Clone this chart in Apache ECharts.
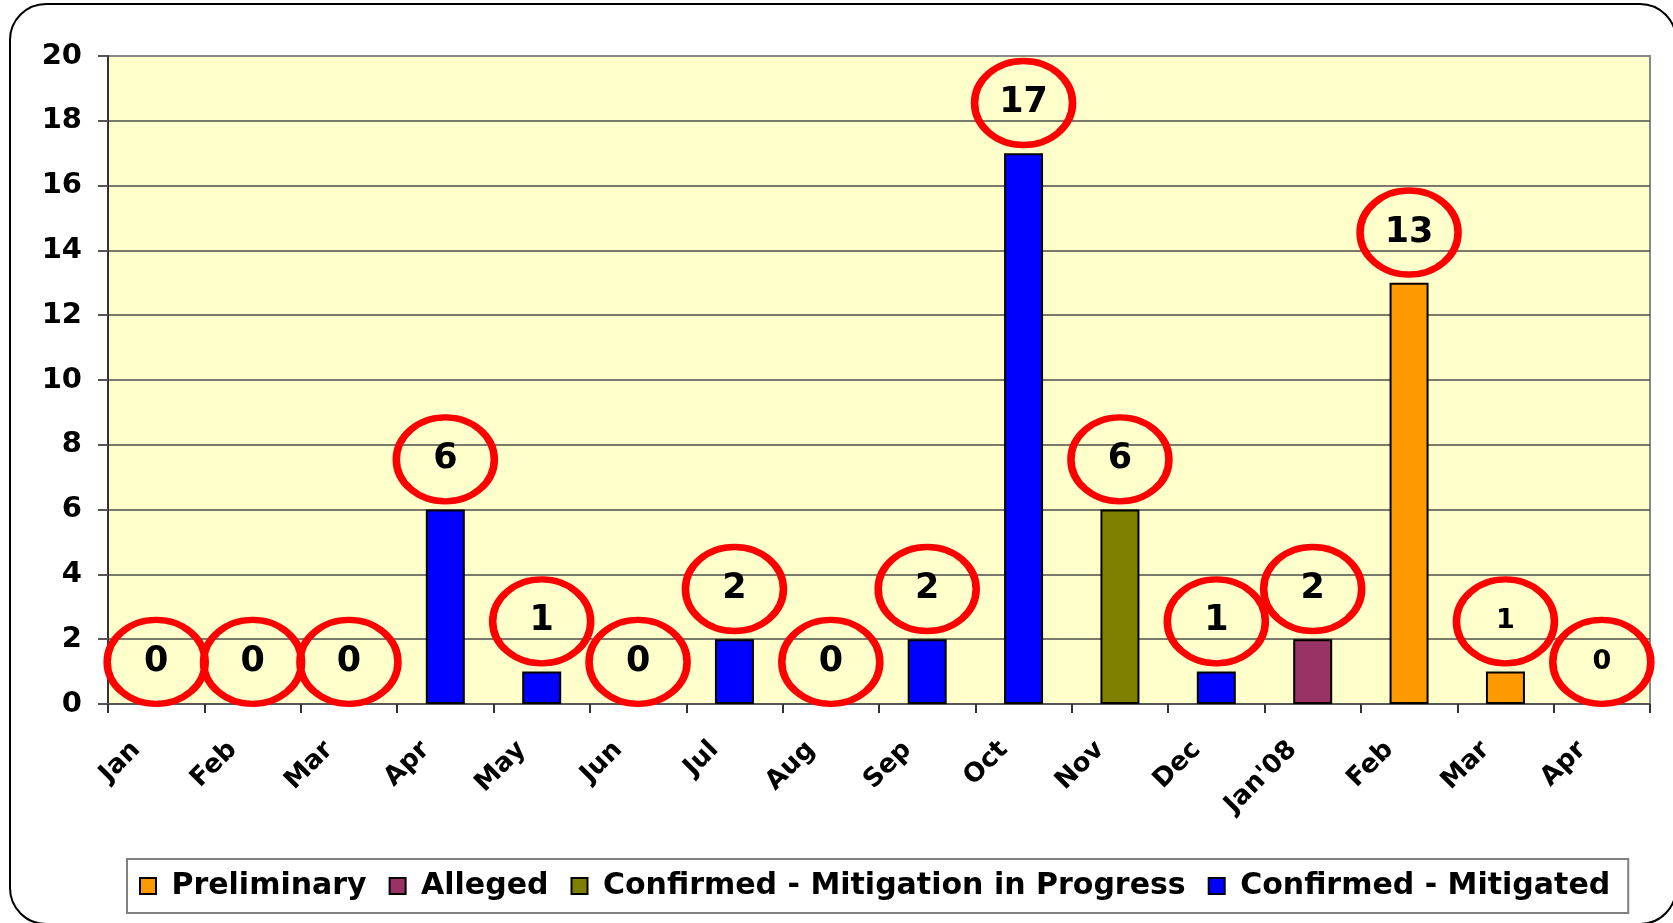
<!DOCTYPE html>
<html>
<head>
<meta charset="utf-8">
<title>Monthly status</title>
<script src="https://cdn.jsdelivr.net/npm/echarts@6/dist/echarts.min.js"></script>
<style>
html,body{margin:0;padding:0;background:#fff;}
#main{width:1673px;height:923px;}
</style>
</head>
<body>
<div id="main"></div>
<script>
// categories (x axis)
var months = ["Jan","Feb","Mar","Apr","May","Jun","Jul","Aug","Sep","Oct","Nov","Dec","Jan'08","Feb","Mar","Apr"];

// series values, one per month
var preliminary = [0,0,0,0,0,0,0,0,0,0,0,0,0,13,1,0];
var alleged     = [0,0,0,0,0,0,0,0,0,0,0,0,2,0,0,0];
var inProgress  = [0,0,0,0,0,0,0,0,0,0,6,0,0,0,0,0];
var mitigated   = [0,0,0,6,1,0,2,0,2,17,0,1,0,0,0,0];

var seriesNames = ["Preliminary","Alleged","Confirmed - Mitigation in Progress","Confirmed - Mitigated"];

// y axis ticks
var yMin = 0;
var yMax = 20;
var yStep = 2;

var fontName = "DejaVu Sans";

function sumMonths(){
    var t = [];
    for (var i = 0; i < months.length; i++) {
        t.push(preliminary[i] + alleged[i] + inProgress[i] + mitigated[i]);
    }
    return t;
}

function barData(arr){
    return arr.map(function(v){ return v === 0 ? '-' : v; });
}

// red rings with the monthly total, drawn a bit above each bar
function ringData(totals){
    var out = [];
    for (var i = 0; i < totals.length; i++) {
        var t = totals[i];
        var item = {value: [i, t > 0 ? t + 1.55 : 1.3, t]};
        if (i >= 14) {
            item.label = {fontSize: 27};
        }
        out.push(item);
    }
    return out;
}

function drawChart(){
    var chart = echarts.init(document.getElementById('main'));
    var colors = ['#FF9900','#993366','#808000','#0000FF'];
    var values = [preliminary, alleged, inProgress, mitigated];
    var series = [];
    for (var s = 0; s < values.length; s++) {
        series.push({
            name: seriesNames[s],
            type: 'bar',
            stack: 'total',
            barWidth: 39,
            data: barData(values[s]),
            itemStyle: {color: colors[s], borderColor: '#000', borderWidth: 2}
        });
    }
    var totals = sumMonths();
    series.push({
        name: 'rings',
        type: 'scatter',
        z: 5,
        symbol: 'path://M0,50 A50,50 0 1,1 100,50 A50,50 0 1,1 0,50 Z',
        symbolSize: [98, 84],
        itemStyle: {color: 'rgba(0,0,0,0)', borderColor: '#FF0000', borderWidth: 7, opacity: 1},
        label: {
            show: true,
            position: 'inside',
            color: '#000',
            fontFamily: fontName,
            fontWeight: 'bold',
            fontSize: 35,
            formatter: function(p){ return p.value[2]; }
        },
        data: ringData(totals)
    });

    var splitColors = [];
    for (var k = yMin; k < yMax; k += yStep) splitColors.push('#4d4d4d');
    splitColors.push('#888888');

    var option = {
        animation: false,
        color: colors,
        graphic: [{
            type: 'rect',
            shape: {x: 10, y: 4, width: 1666, height: 920, r: 36},
            style: {fill: 'none', stroke: '#000', lineWidth: 2},
            silent: true,
            z: -1
        }],
        grid: {
            left: 108, right: 23, top: 56, bottom: 219,
            show: true,
            backgroundColor: '#FFFFCC',
            borderColor: '#888888',
            borderWidth: 2
        },
        legend: {
            data: seriesNames,
            left: 127,
            top: 859,
            padding: [12, 18, 12, 12],
            backgroundColor: '#fff',
            borderColor: '#808080',
            borderWidth: 2,
            borderRadius: 0,
            icon: 'rect',
            itemWidth: 16,
            itemHeight: 16,
            itemGap: 22,
            itemStyle: {borderColor: '#000', borderWidth: 2},
            formatter: function(n){ return ' ' + n; },
            textStyle: {fontFamily: fontName, fontWeight: 'bold', fontSize: 30, color: '#000'}
        },
        xAxis: {
            type: 'category',
            data: months,
            axisLine: {lineStyle: {color: '#555', width: 2}},
            axisTick: {show: true, length: 9, lineStyle: {color: '#333', width: 2}},
            axisLabel: {
                interval: 0,
                rotate: 45,
                margin: 22,
                padding: [0, 28, 0, 0],
                color: '#000',
                fontFamily: fontName,
                fontWeight: 'bold',
                fontSize: 26
            }
        },
        yAxis: {
            type: 'value',
            min: yMin,
            max: yMax,
            interval: yStep,
            axisLine: {show: true, lineStyle: {color: '#333', width: 2}},
            axisTick: {show: true, length: 10, lineStyle: {color: '#555', width: 2}},
            splitLine: {lineStyle: {color: splitColors, width: 1.5}},
            axisLabel: {
                margin: 26,
                color: '#000',
                fontFamily: fontName,
                fontWeight: 'bold',
                fontSize: 29
            }
        },
        series: series
    };
    chart.setOption(option);
}

drawChart();
</script>
</body>
</html>
